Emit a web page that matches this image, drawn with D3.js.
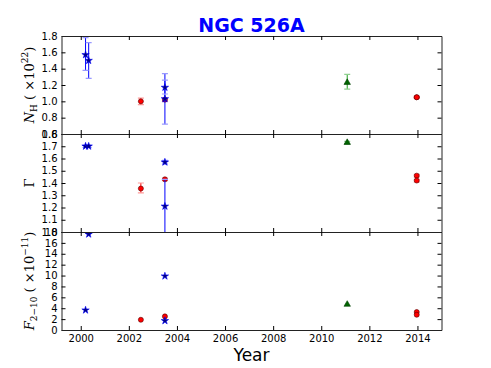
<!DOCTYPE html>
<html>
<head>
<meta charset="utf-8">
<script src="https://cdn.jsdelivr.net/npm/d3@7"></script>
<style>
  body { margin: 0; background: #fff; }
  svg { display: block; }
</style>
</head>
<body>
<svg id="chart"></svg>
<script>
// blue stars
const starYears = [2000.2, 2000.33, 2003.5, 2003.5];
const starNh = [1.57, 1.50, 1.17, 1.03];
const starNhLo = [1.38, 1.28, 1.09, 0.72];
const starNhHi = [1.78, 1.72, 1.34, 1.26];
const starGamma = [1.70, 1.70, 1.57, 1.21];
const starGammaLo = [1.69, 1.69, 1.555, 0.90];
const starGammaHi = [1.71, 1.71, 1.585, 1.43];
const starFlux = [3.65, 17.6, 9.9, 1.7];

// red circles
const circYears = [2002.5, 2003.5, 2013.97, 2013.97];
const circNh = [1.00, 1.02, 1.05, 1.05];
const circNhLo = [0.96, 1.00, 1.04, 1.04];
const circNhHi = [1.04, 1.04, 1.06, 1.06];
const circGamma = [1.355, 1.43, 1.46, 1.42];
const circGammaLo = [1.32, 1.42, 1.45, 1.41];
const circGammaHi = [1.40, 1.44, 1.47, 1.43];
const circFlux = [1.88, 2.5, 3.3, 2.8];

// green triangles
const triYears = [2011.08];
const triNh = [1.23];
const triNhLo = [1.15];
const triNhHi = [1.33];
const triGamma = [1.73];
const triGammaLo = [1.72];
const triGammaHi = [1.74];
const triFlux = [4.7];

const xTicks = [2000, 2002, 2004, 2006, 2008, 2010, 2012, 2014];
const nhTicks = [0.6, 0.8, 1.0, 1.2, 1.4, 1.6, 1.8];
const gammaTicks = [1.0, 1.1, 1.2, 1.3, 1.4, 1.5, 1.6, 1.7, 1.8];
const fluxTicks = [0, 2, 4, 6, 8, 10, 12, 14, 16, 18];

const W = 491, H = 368;
const left = 61.5, right = 441.5;
const panelTops = [36, 134, 232];
const panelH = 98;

const svg = d3.select("#chart").attr("width", W).attr("height", H);

const x = d3.scaleLinear().domain([1999.2, 2015]).range([left, right]);

const rows = (years, v, lo, hi) => years.map((yr, i) => ({
    x: yr, y: v[i], lo: lo ? lo[i] : null, hi: hi ? hi[i] : null
}));

const panels = [
    {
        domain: [0.6, 1.8], ticks: nhTicks, fmt: d3.format(".1f"),
        series: [
            {kind: "circ", data: rows(circYears, circNh, circNhLo, circNhHi)},
            {kind: "tri", data: rows(triYears, triNh, triNhLo, triNhHi)},
            {kind: "star", data: rows(starYears, starNh, starNhLo, starNhHi)}
        ]
    },
    {
        domain: [1.0, 1.8], ticks: gammaTicks, fmt: d3.format(".1f"),
        series: [
            {kind: "circ", data: rows(circYears, circGamma, circGammaLo, circGammaHi)},
            {kind: "tri", data: rows(triYears, triGamma, triGammaLo, triGammaHi)},
            {kind: "star", data: rows(starYears, starGamma, starGammaLo, starGammaHi)}
        ]
    },
    {
        domain: [0, 18], ticks: fluxTicks, fmt: d3.format("d"),
        series: [
            {kind: "circ", data: rows(circYears, circFlux)},
            {kind: "tri", data: rows(triYears, triFlux)},
            {kind: "star", data: rows(starYears, starFlux)}
        ]
    }
];

const styles = {
    circ: {sym: d3.symbolCircle, size: 20, fill: "#ff0000", stroke: "#550000", err: "#ff0000", cap: "#ff9999"},
    tri: {sym: d3.symbolTriangle, size: 18, fill: "#006400", stroke: "#004000", err: "#22a022", cap: "#90d090"},
    star: {sym: d3.symbolStar, size: 17, fill: "#000080", stroke: "#0000ff", err: "#0000ff", cap: "#9999ff"}
};

const font = "'DejaVu Sans', sans-serif";

panels.forEach((p, i) => {
    const top = panelTops[i];
    const y = d3.scaleLinear().domain(p.domain).range([top + panelH, top]);

    const clipId = "clip" + i;
    svg.append("clipPath").attr("id", clipId)
        .append("rect")
        .attr("x", left).attr("y", top)
        .attr("width", right - left).attr("height", panelH);

    const g = svg.append("g").attr("clip-path", `url(#${clipId})`);

    p.series.forEach(s => {
        const st = styles[s.kind];
        const withErr = s.data.filter(d => d.lo !== null);
        g.selectAll(null).data(withErr).join("line")
            .attr("x1", d => x(d.x)).attr("x2", d => x(d.x))
            .attr("y1", d => y(d.lo)).attr("y2", d => y(d.hi))
            .attr("stroke", st.err).attr("stroke-width", 1);
        [d => d.lo, d => d.hi].forEach(acc => {
            g.selectAll(null).data(withErr).join("line")
                .attr("x1", d => x(d.x) - 3).attr("x2", d => x(d.x) + 3)
                .attr("y1", d => y(acc(d))).attr("y2", d => y(acc(d)))
                .attr("stroke", st.cap).attr("stroke-width", 1.2);
        });
        g.selectAll(null).data(s.data).join("path")
            .attr("transform", d => `translate(${x(d.x)},${y(d.y)})`)
            .attr("d", d3.symbol(st.sym, st.size))
            .attr("fill", st.fill)
            .attr("stroke", st.stroke)
            .attr("stroke-width", 0.6);
    });

    // axes, ticks pointing inward
    svg.append("g").attr("transform", `translate(${left},0)`)
        .call(d3.axisLeft(y).tickValues(p.ticks).tickFormat(p.fmt)
            .tickSize(-4).tickSizeOuter(0).tickPadding(4));
    svg.append("g").attr("transform", `translate(${right},0)`)
        .call(d3.axisRight(y).tickValues(p.ticks.slice(1, -1)).tickFormat("")
            .tickSize(-4).tickSizeOuter(0));
    svg.append("g").attr("transform", `translate(0,${top})`)
        .call(d3.axisTop(x).tickValues(xTicks).tickFormat("")
            .tickSize(-4).tickSizeOuter(0));
    svg.append("g").attr("transform", `translate(0,${top + panelH})`)
        .call(d3.axisBottom(x).tickValues(xTicks)
            .tickFormat(i === 2 ? d3.format("d") : "")
            .tickSize(-4).tickSizeOuter(0).tickPadding(5));

    svg.selectAll(".tick text").attr("font-family", font).attr("font-size", 10).attr("fill", "#000");
    svg.selectAll(".domain").attr("stroke", "#222");
});

// y axis labels
const labelX = 34;
const mid = i => panelTops[i] + panelH / 2;

const nh = svg.append("text")
    .attr("transform", `translate(${labelX},${mid(0)}) rotate(-90)`)
    .attr("text-anchor", "middle")
    .attr("font-family", "'DejaVu Serif', serif")
    .attr("font-size", 13);
nh.append("tspan").attr("font-style", "italic").text("N");
nh.append("tspan").attr("font-size", 9).attr("dy", 3).text("H");
nh.append("tspan").attr("dy", -3).text(" ( ×10");
nh.append("tspan").attr("font-size", 9).attr("dy", -6).text("22");
nh.append("tspan").attr("dy", 6).text(")");

svg.append("text")
    .attr("transform", `translate(${labelX},${mid(1)}) rotate(-90)`)
    .attr("text-anchor", "middle")
    .attr("font-family", "'DejaVu Serif', serif")
    .attr("font-size", 13)
    .text("Γ");

const fl = svg.append("text")
    .attr("transform", `translate(${labelX},${mid(2)}) rotate(-90)`)
    .attr("text-anchor", "middle")
    .attr("font-family", "'DejaVu Serif', serif")
    .attr("font-size", 13);
fl.append("tspan").attr("font-style", "italic").text("F");
fl.append("tspan").attr("font-size", 9).attr("dy", 3).text("2−10");
fl.append("tspan").attr("dy", -3).text(" ( ×10");
fl.append("tspan").attr("font-size", 9).attr("dy", -6).text("−11");
fl.append("tspan").attr("dy", 6).text(")");

// x label and title
svg.append("text")
    .attr("x", (left + right) / 2).attr("y", 361)
    .attr("text-anchor", "middle")
    .attr("font-family", font)
    .attr("font-size", 17)
    .text("Year");

svg.append("text")
    .attr("x", (left + right) / 2).attr("y", 32)
    .attr("text-anchor", "middle")
    .attr("font-family", font)
    .attr("font-weight", "bold")
    .attr("font-size", 19)
    .attr("fill", "#0000ff")
    .text("NGC 526A");
</script>
</body>
</html>
